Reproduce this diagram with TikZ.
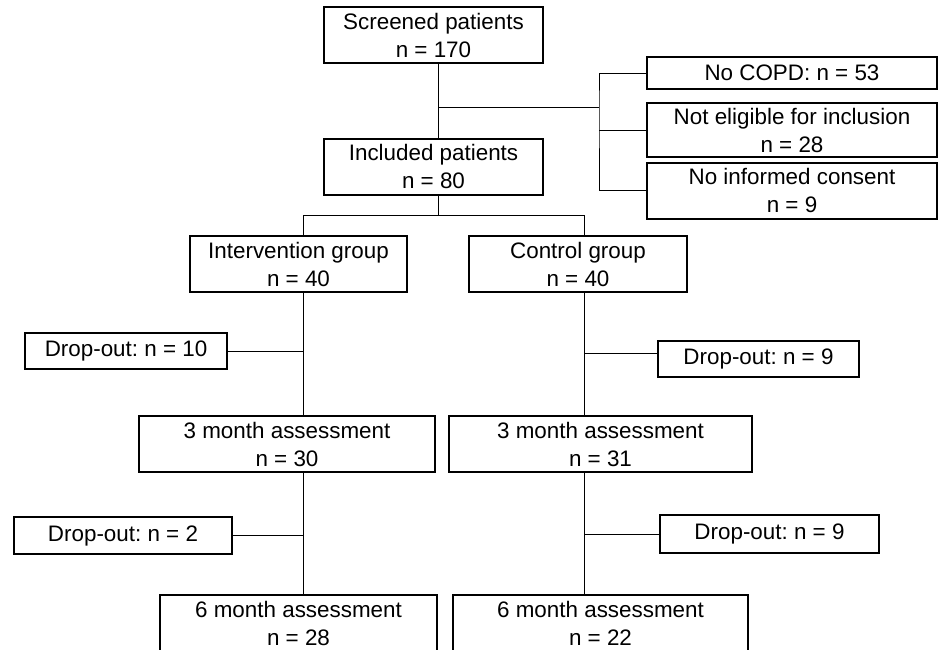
\documentclass[tikz,border=0pt]{standalone}
\usepackage{fontspec}
\setmainfont{Liberation Sans}
\frenchspacing
\begin{document}
\begin{tikzpicture}
  [x=0.5pt,y=-0.5pt,
   box/.style={draw,line width=1pt,align=center,inner sep=0pt,minimum height=28pt,
     font=\fontsize{11.2}{14}\selectfont},
   link/.style={line width=0.5pt}]
  \useasboundingbox (0,0) rectangle (938,649);
  \node[box,minimum width=109.5pt] (scr) at (433.5,35) {Screened patients\\n = 170};
  \node[box,minimum width=109.5pt] (inc) at (433.5,166.5) {Included patients\\n = 80};
  \node[box,minimum width=145pt,minimum height=16pt] (copd) at (792,73) {No COPD: n = 53};
  \node[box,minimum width=145pt,minimum height=27pt] (elig) at (792,130) {Not eligible for inclusion\\n = 28};
  \node[box,minimum width=145pt] (cons) at (792,190.5) {No informed consent\\n = 9};
  \node[box,minimum width=108.5pt] (ivg) at (298.5,264) {Intervention group\\n = 40};
  \node[box,minimum width=109pt] (ctg) at (578,264) {Control group\\n = 40};
  \node[box,minimum width=101pt,minimum height=18pt] (do1) at (126,351) {Drop-out: n = 10};
  \node[box,minimum width=100.5pt,minimum height=18pt] (do2) at (758.5,359) {Drop-out: n = 9};
  \node[box,minimum width=148pt] (m3a) at (287,444) {3 month assessment\\n = 30};
  \node[box,minimum width=151.5pt] (m3b) at (600.5,444) {3 month assessment\\n = 31};
  \node[box,minimum width=109pt,minimum height=18.5pt] (do3) at (123,535.5) {Drop-out: n = 2};
  \node[box,minimum width=109.5pt,minimum height=19pt] (do4) at (769.5,534) {Drop-out: n = 9};
  \node[box,minimum width=138.5pt] (m6a) at (298.5,623) {6 month assessment\\n = 28};
  \node[box,minimum width=147.5pt] (m6b) at (600.5,623) {6 month assessment\\n = 22};

  \coordinate (jA) at (438,107);
  \coordinate (jR) at (599,107);
  \coordinate (jS) at (438,215);
  \coordinate (jL) at (303,215);
  \coordinate (jC) at (584,215);

  \draw[link] (scr.south -| jA) -- (inc.north -| jA);
  \draw[link] (jA) -- (jR);
  \draw[link] (copd.west) -| (jR) |- (cons.west);
  \draw[link] (elig.west) -- (elig.west -| jR);
  \draw[link] (inc.south -| jS) -- (jS);
  \draw[link] (ivg.north -| jL) -- (jL) -- (jC) -- (ctg.north -| jC);
  \draw[link] (ivg.south -| jL) -- (m3a.north -| jL);
  \draw[link] (m3a.south -| jL) -- (m6a.north -| jL);
  \draw[link] (ctg.south -| jC) -- (m3b.north -| jC);
  \draw[link] (m3b.south -| jC) -- (m6b.north -| jC);
  \draw[link] (do1.east) -- (do1.east -| jL);
  \draw[link] ([yshift=3pt]do2.west) -- ([yshift=3pt]do2.west -| jC);
  \draw[link] (do3.east) -- (do3.east -| jL);
  \draw[link] (do4.west) -- (do4.west -| jC);
\end{tikzpicture}
\end{document}
